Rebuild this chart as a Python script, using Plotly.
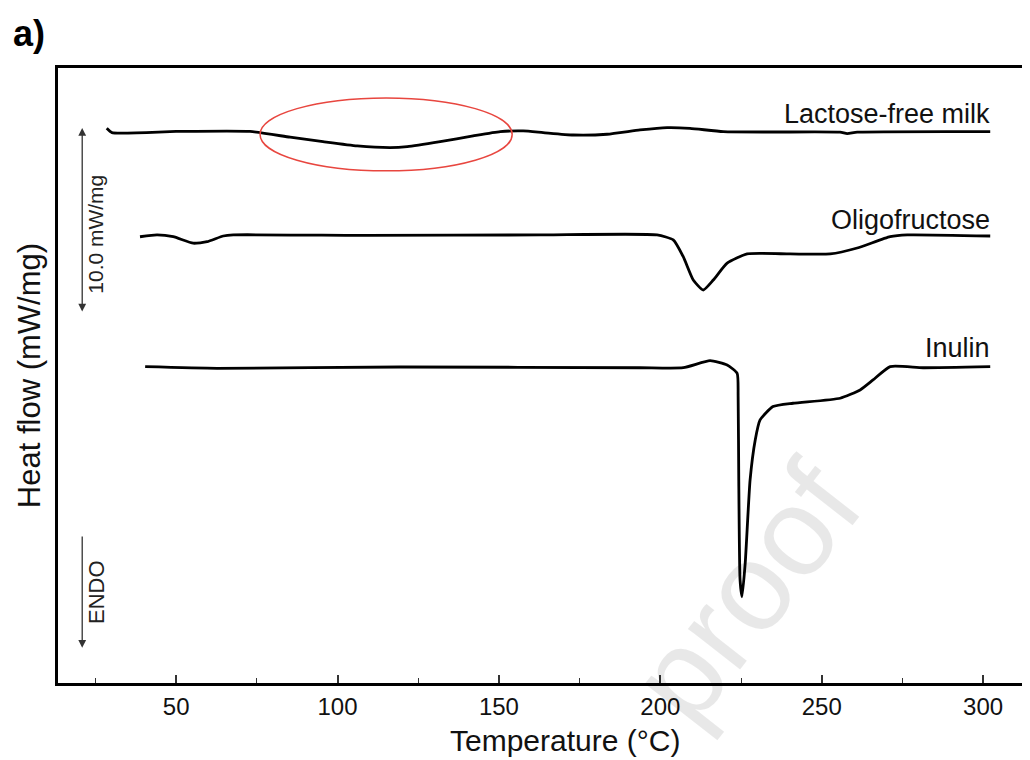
import plotly.graph_objects as go

# Temperature (°C) and heat flow (mW/mg, stacked with offsets)
lactose_T = [28.5, 30.1, 50, 72.9, 85.3, 95.5, 106.1, 116.3, 121.6, 131.8, 142.0, 150.4, 157.5,
             163.7, 173.0, 183.5, 193.7, 202.1, 209.2, 219.5, 234.9, 255.7, 257.9, 261.0, 302.2]
lactose_hf = [29.98, 29.75, 29.81, 29.81, 29.50, 29.26, 29.03, 28.94, 28.99, 29.26, 29.57, 29.80, 29.84,
              29.75, 29.62, 29.66, 29.89, 30.02, 29.98, 29.80, 29.78, 29.77, 29.69, 29.77, 29.80]

oligo_T = [38.8, 44.1, 49.1, 55.3, 59.6, 64.6, 67.7, 109.2, 162.8, 199.0, 204.0, 207.1, 210.2,
           213.3, 216.4, 220.7, 226.9, 240.2, 252.6, 261.0, 271.2, 276.5, 302.2]
oligo_hf = [24.12, 24.22, 24.12, 23.77, 23.85, 24.16, 24.22, 24.19, 24.22, 24.22, 23.95, 23.04, 21.78,
            21.24, 21.78, 22.69, 23.19, 23.19, 23.19, 23.51, 24.12, 24.22, 24.16]

inulin_T = [40.4, 62.7, 119.4, 193.7, 207.1, 215.4, 220.7, 223.8, 224.1, 224.3, 224.7, 225.3, 226.3,
            227.8, 229.4, 230.9, 234.9, 241.1, 255.7, 261.9, 265.9, 271.2, 281.4, 302.2]
inulin_hf = [17.10, 17.01, 17.08, 17.04, 17.04, 17.42, 17.19, 16.74, 15.48, 10.97, 5.57, 4.66, 6.49,
             10.97, 13.14, 14.22, 14.94, 15.12, 15.39, 15.84, 16.38, 17.10, 17.04, 17.10]

series_names = ["Lactose-free milk", "Oligofructose", "Inulin"]
series_T = [lactose_T, oligo_T, inulin_T]
series_hf = [lactose_hf, oligo_hf, inulin_hf]
label_y = [30.76, 25.03, 18.11]

x_ticks = [50, 100, 150, 200, 250, 300]

FONT = "Liberation Sans, Arial, sans-serif"

fig = go.Figure()
for name, t, hf in zip(series_names, series_T, series_hf):
    fig.add_trace(go.Scatter(
        x=t, y=hf, mode="lines", name=name,
        line=dict(color="black", width=2.8, shape="spline", smoothing=0.5),
        showlegend=False, hoverinfo="skip"))

annotations = []
for name, ly in zip(series_names, label_y):
    annotations.append(dict(x=302.8, y=ly, xref="x", yref="y", text=name, showarrow=False,
                            xanchor="right", yanchor="middle",
                            font=dict(family=FONT, size=27, color="#111")))

# scale bar 10 mW/mg
annotations.append(dict(x=20.9, y=30.0, ax=20.9, ay=20.0, xref="x", yref="y", axref="x", ayref="y",
                        text="", showarrow=True, arrowhead=2, startarrowhead=2, arrowside="end+start",
                        arrowsize=1.2, startarrowsize=1.2, arrowwidth=1.3, arrowcolor="#333"))
annotations.append(dict(x=25.1, y=24.27, xref="x", yref="y", text="10.0 mW/mg", textangle=-90,
                        showarrow=False, xanchor="center", yanchor="middle",
                        font=dict(family=FONT, size=21, color="#222")))
# ENDO arrow
annotations.append(dict(x=20.9, y=1.9, ax=20.9, ay=8.0, xref="x", yref="y", axref="x", ayref="y",
                        text="", showarrow=True, arrowhead=2, arrowsize=1.2, arrowwidth=1.3,
                        arrowcolor="#333"))
annotations.append(dict(x=25.5, y=4.92, xref="x", yref="y", text="ENDO", textangle=-90,
                        showarrow=False, xanchor="center", yanchor="middle",
                        font=dict(family=FONT, size=22, color="#222")))
# panel label
annotations.append(dict(x=-0.0296, y=1.0553, xref="paper", yref="paper", text="<b>a)</b>",
                        showarrow=False, xanchor="center", yanchor="middle",
                        font=dict(family=FONT, size=36, color="black")))
# x axis title
annotations.append(dict(x=0.5173, y=-0.0927, xref="paper", yref="paper",
                        text="Temperature (°C)", showarrow=False, xanchor="center", yanchor="middle",
                        font=dict(family=FONT, size=30, color="#111")))
# watermark
annotations.append(dict(x=0.702, y=0.148, xref="paper", yref="paper", text="proof", textangle=-52,
                        showarrow=False, xanchor="center", yanchor="middle",
                        font=dict(family=FONT, size=125, color="rgba(0,0,0,0.09)")))

fig.update_layout(
    width=1030, height=760,
    margin=dict(l=50, r=0, t=60, b=85),
    paper_bgcolor="white", plot_bgcolor="white",
    annotations=annotations,
    shapes=[dict(type="circle", xref="x", yref="y", x0=76.0, x1=154.1, y0=27.68, y1=31.62,
                 line=dict(color="#e8463f", width=1.5))],
    font=dict(family=FONT, color="#111"),
)
fig.update_xaxes(
    range=[13.4, 317.0], showgrid=False, zeroline=False,
    showline=True, linecolor="black", linewidth=2.8, mirror=True,
    ticks="inside", ticklen=8, tickwidth=1.5, tickcolor="#333",
    tickvals=x_ticks, ticktext=[str(v) for v in x_ticks],
    tickfont=dict(family=FONT, size=24, color="#111"),
    minor=dict(ticks="inside", ticklen=5, tickwidth=1.2, tickcolor="#333", tick0=25, dtick=50),
)
fig.update_yaxes(
    range=[0, 33.24], showgrid=False, zeroline=False,
    showline=True, linecolor="black", linewidth=2.8,
    showticklabels=False, ticks="",
    title=dict(text="Heat flow (mW/mg)", standoff=6, font=dict(family=FONT, size=31, color="#111")),
)

fig.write_html("out.html")
